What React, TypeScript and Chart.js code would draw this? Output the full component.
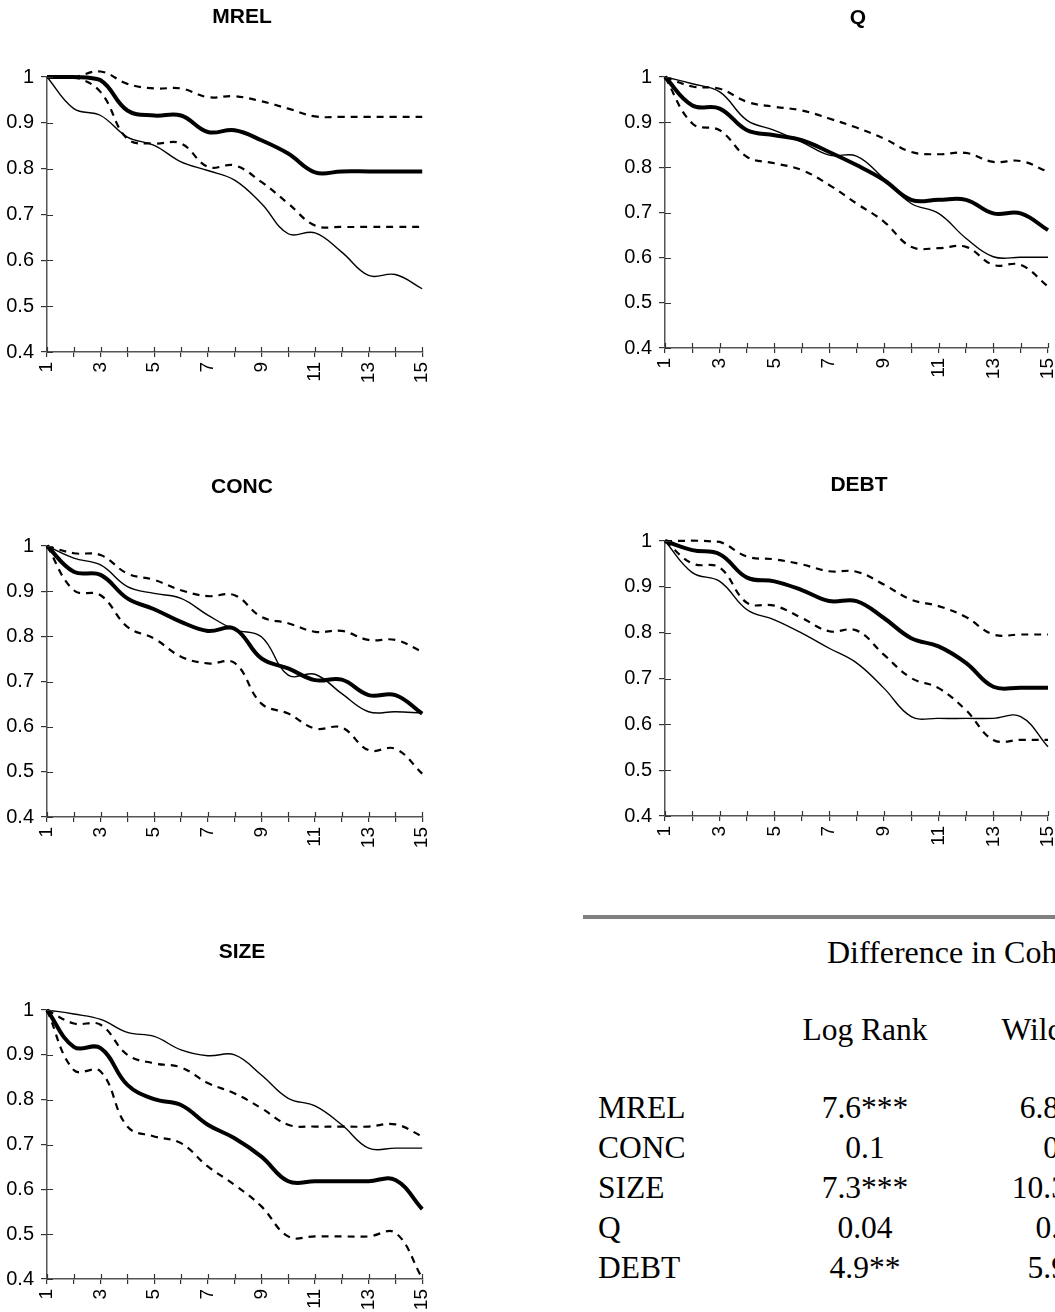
import React, { useEffect, useRef } from 'react';
import { Chart, registerables } from 'chart.js';

Chart.register(...registerables);

// ---- data ----
const periods = [1, 2, 3, 4, 5, 6, 7, 8, 9, 10, 11, 12, 13, 14, 15];
const xLabelValues = [1, 3, 5, 7, 9, 11, 13, 15];
const yTickValues = [0.4, 0.5, 0.6, 0.7, 0.8, 0.9, 1];

const mrelThick = [1, 1, 0.993, 0.927, 0.916, 0.916, 0.88, 0.884, 0.862, 0.833, 0.792, 0.794, 0.794, 0.794, 0.794];
const mrelThin = [1, 0.931, 0.916, 0.869, 0.851, 0.815, 0.796, 0.775, 0.724, 0.658, 0.66, 0.618, 0.567, 0.569, 0.538];
const mrelUpper = [1, 1.0, 1.012, 0.985, 0.975, 0.975, 0.956, 0.958, 0.947, 0.931, 0.914, 0.913, 0.913, 0.913, 0.913];
const mrelLower = [1, 1.0, 0.967, 0.865, 0.855, 0.855, 0.804, 0.807, 0.771, 0.724, 0.676, 0.673, 0.673, 0.673, 0.673];

const qThick = [1, 0.937, 0.93, 0.882, 0.871, 0.86, 0.834, 0.805, 0.772, 0.728, 0.728, 0.728, 0.698, 0.698, 0.661];
const qThin = [1, 0.985, 0.967, 0.904, 0.882, 0.856, 0.827, 0.825, 0.775, 0.72, 0.698, 0.643, 0.602, 0.601, 0.601];
const qUpper = [1, 0.979, 0.974, 0.945, 0.934, 0.926, 0.908, 0.888, 0.864, 0.834, 0.829, 0.832, 0.812, 0.814, 0.79];
const qLower = [1, 0.897, 0.882, 0.823, 0.809, 0.794, 0.761, 0.72, 0.68, 0.624, 0.621, 0.624, 0.584, 0.584, 0.536];

const concThick = [1, 0.943, 0.936, 0.884, 0.86, 0.832, 0.812, 0.817, 0.751, 0.729, 0.703, 0.704, 0.67, 0.67, 0.629];
const concThin = [1, 0.973, 0.958, 0.91, 0.895, 0.884, 0.847, 0.815, 0.799, 0.714, 0.716, 0.673, 0.633, 0.633, 0.63];
const concUpper = [1, 0.984, 0.98, 0.939, 0.925, 0.902, 0.889, 0.891, 0.843, 0.829, 0.81, 0.812, 0.792, 0.792, 0.766];
const concLower = [1, 0.902, 0.891, 0.821, 0.795, 0.755, 0.74, 0.741, 0.651, 0.629, 0.596, 0.598, 0.548, 0.551, 0.496];

const debtThick = [1, 0.98, 0.971, 0.92, 0.912, 0.893, 0.869, 0.869, 0.832, 0.788, 0.77, 0.734, 0.682, 0.68, 0.68];
const debtThin = [1, 0.931, 0.912, 0.85, 0.828, 0.799, 0.766, 0.734, 0.679, 0.617, 0.613, 0.613, 0.613, 0.617, 0.551];
const debtUpper = [1, 1.001, 0.998, 0.966, 0.96, 0.949, 0.934, 0.933, 0.905, 0.872, 0.858, 0.834, 0.796, 0.796, 0.796];
const debtLower = [1, 0.951, 0.942, 0.865, 0.859, 0.832, 0.803, 0.805, 0.752, 0.701, 0.679, 0.631, 0.566, 0.566, 0.566];

const sizeThick = [1, 0.918, 0.915, 0.833, 0.801, 0.788, 0.744, 0.714, 0.673, 0.618, 0.618, 0.618, 0.618, 0.621, 0.556];
const sizeThin = [1, 0.991, 0.979, 0.95, 0.941, 0.911, 0.898, 0.9, 0.855, 0.803, 0.786, 0.744, 0.692, 0.692, 0.692];
const sizeUpper = [1, 0.97, 0.967, 0.9, 0.881, 0.872, 0.837, 0.814, 0.781, 0.744, 0.74, 0.74, 0.74, 0.745, 0.718];
const sizeLower = [1, 0.866, 0.863, 0.74, 0.718, 0.703, 0.651, 0.61, 0.562, 0.495, 0.495, 0.495, 0.495, 0.503, 0.402];

const tableTitle = 'Difference in Cohort Survival';
const tableHeaders = ['Log Rank', 'Wilcoxon'];
const tableRows = ['MREL', 'CONC', 'SIZE', 'Q', 'DEBT'];
const logRankValues = ['7.6***', '0.1', '7.3***', '0.04', '4.9**'];
const wilcoxonValues = ['6.8***', '0.1', '10.3***', '0.02', '5.9**'];

// ---- layout ----
type Geo = { left: number; width: number; titleX: number; titleY: number; plotTop: number; plotBottom: number; plotLeft: number; plotRight: number };
const X_AXIS_H = 62;

const crossTicks = {
  id: 'crossTicks',
  afterDraw(chart: any) {
    const { ctx, chartArea, scales } = chart;
    ctx.save();
    ctx.strokeStyle = '#333';
    ctx.lineWidth = 1.2;
    ctx.beginPath();
    scales.x.ticks.forEach((t: any) => {
      const px = Math.round(scales.x.getPixelForValue(t.value)) + 0.5;
      ctx.moveTo(px, chartArea.bottom);
      ctx.lineTo(px, chartArea.bottom - 5);
    });
    scales.y.ticks.forEach((t: any) => {
      const py = Math.round(scales.y.getPixelForValue(t.value)) + 0.5;
      ctx.moveTo(chartArea.left, py);
      ctx.lineTo(chartArea.left + 6, py);
    });
    ctx.stroke();
    ctx.restore();
  },
};

const panelTitle = {
  id: 'panelTitle',
  afterDraw(chart: any, _args: any, opts: any) {
    const { ctx } = chart;
    ctx.save();
    ctx.fillStyle = '#000';
    ctx.font = 'bold 21px "Liberation Sans", Arial, sans-serif';
    ctx.textAlign = 'center';
    ctx.textBaseline = 'middle';
    ctx.fillText(opts.text, opts.x, opts.y);
    ctx.restore();
  },
};

function Panel({ title, thick, thin, upper, lower, geo }: { title: string; thick: number[]; thin: number[]; upper: number[]; lower: number[]; geo: Geo }) {
  const ref = useRef<HTMLCanvasElement | null>(null);
  const top = geo.titleY - 16;
  const height = geo.plotBottom - top + X_AXIS_H;
  useEffect(() => {
    if (!ref.current) return;
    const dashed = { borderColor: '#000', borderWidth: 2.2, borderDash: [7, 6], pointRadius: 0, tension: 0.4, fill: false, clip: false as any };
    const chart = new Chart(ref.current, {
      type: 'line',
      data: {
        datasets: [
          { data: periods.map((x, i) => ({ x, y: lower[i] })), ...dashed },
          { data: periods.map((x, i) => ({ x, y: upper[i] })), ...dashed },
          { data: periods.map((x, i) => ({ x, y: thin[i] })), borderColor: '#000', borderWidth: 1.4, pointRadius: 0, tension: 0.4, fill: false, clip: false as any },
          { data: periods.map((x, i) => ({ x, y: thick[i] })), borderColor: '#000', borderWidth: 4, pointRadius: 0, tension: 0.4, fill: false, clip: false as any },
        ],
      },
      options: {
        animation: false,
        responsive: false,
        events: [],
        layout: { padding: { left: 0, top: geo.plotTop - top, bottom: 0, right: geo.left + geo.width - geo.plotRight } },
        plugins: {
          legend: { display: false },
          tooltip: { enabled: false },
          title: { display: false },
          panelTitle: { text: title, x: geo.titleX - geo.left, y: geo.titleY - top },
        },
        scales: {
          x: {
            type: 'linear',
            min: 1,
            max: 15,
            afterFit: (s: any) => { s.height = X_AXIS_H; },
            afterBuildTicks: (s: any) => { s.ticks = periods.map((v) => ({ value: v })); },
            ticks: {
              autoSkip: false,
              minRotation: 90,
              maxRotation: 90,
              padding: 5,
              color: '#000',
              font: { family: 'Liberation Sans, Arial, sans-serif', size: 19 },
              callback: (v: any) => (xLabelValues.includes(Number(v)) ? String(v) : ''),
            },
            grid: { display: true, drawOnChartArea: false, drawTicks: true, tickLength: 5, color: '#333', lineWidth: 1.2 },
            border: { display: true, color: '#555', width: 1.5 },
          },
          y: {
            type: 'linear',
            min: 0.4,
            max: 1,
            afterFit: (s: any) => { s.width = geo.plotLeft - geo.left; },
            afterBuildTicks: (s: any) => { s.ticks = yTickValues.map((v) => ({ value: v })); },
            ticks: {
              padding: 7,
              color: '#000',
              font: { family: 'Liberation Sans, Arial, sans-serif', size: 20 },
              callback: (v: any) => { const r = Math.round(Number(v) * 10) / 10; return r === 1 ? '1' : r.toFixed(1); },
            },
            grid: { display: true, drawOnChartArea: false, drawTicks: true, tickLength: 6, color: '#333', lineWidth: 1.2 },
            border: { display: true, color: '#555', width: 1.5 },
          },
        },
      },
      plugins: [crossTicks, panelTitle],
    } as any);
    return () => chart.destroy();
  }, []);
  return (
    <canvas
      ref={ref}
      width={geo.width}
      height={height}
      style={{ position: 'absolute', left: geo.left, top, width: geo.width, height }}
    />
  );
}

const geoMrel: Geo = { left: 0, width: 450, titleX: 242, titleY: 17, plotTop: 77, plotBottom: 352, plotLeft: 47, plotRight: 431 };
const geoQ: Geo = { left: 618, width: 460, titleX: 858, titleY: 18, plotTop: 77, plotBottom: 348, plotLeft: 665, plotRight: 1048 };
const geoConc: Geo = { left: 0, width: 450, titleX: 242, titleY: 487, plotTop: 546, plotBottom: 817, plotLeft: 47, plotRight: 431 };
const geoDebt: Geo = { left: 618, width: 460, titleX: 859, titleY: 485, plotTop: 541, plotBottom: 816, plotLeft: 665, plotRight: 1048 };
const geoSize: Geo = { left: 0, width: 450, titleX: 242, titleY: 952, plotTop: 1010, plotBottom: 1279, plotLeft: 47, plotRight: 431 };

const serif: React.CSSProperties = { position: 'absolute', fontFamily: '"Liberation Serif", "Times New Roman", serif', fontSize: 31.5, lineHeight: '36px', color: '#000', whiteSpace: 'nowrap' };

export default function App() {
  const rowBaseline = (i: number) => 1118 + i * 40;
  return (
    <div style={{ position: 'fixed', left: 0, top: 0, width: 1055, height: 1312, overflow: 'hidden', background: '#fff' }}>
      <Panel title="MREL" thick={mrelThick} thin={mrelThin} upper={mrelUpper} lower={mrelLower} geo={geoMrel} />
      <Panel title="Q" thick={qThick} thin={qThin} upper={qUpper} lower={qLower} geo={geoQ} />
      <Panel title="CONC" thick={concThick} thin={concThin} upper={concUpper} lower={concLower} geo={geoConc} />
      <Panel title="DEBT" thick={debtThick} thin={debtThin} upper={debtUpper} lower={debtLower} geo={geoDebt} />
      <Panel title="SIZE" thick={sizeThick} thin={sizeThin} upper={sizeUpper} lower={sizeLower} geo={geoSize} />

      <div style={{ position: 'absolute', left: 583, top: 915, width: 520, height: 4, background: '#808080' }} />
      <div style={{ ...serif, fontSize: 32, left: 827, top: 962 - 28 }}>{tableTitle}</div>
      <div style={{ ...serif, left: 765, width: 200, textAlign: 'center', top: 1040 - 28 }}>{tableHeaders[0]}</div>
      <div style={{ ...serif, left: 963, width: 200, textAlign: 'center', top: 1040 - 28 }}>{tableHeaders[1]}</div>
      {tableRows.map((r, i) => (
        <React.Fragment key={r}>
          <div style={{ ...serif, left: 598, top: rowBaseline(i) - 28 }}>{r}</div>
          <div style={{ ...serif, left: 765, width: 200, textAlign: 'center', top: rowBaseline(i) - 28 }}>{logRankValues[i]}</div>
          <div style={{ ...serif, left: 963, width: 200, textAlign: 'center', top: rowBaseline(i) - 28 }}>{wilcoxonValues[i]}</div>
        </React.Fragment>
      ))}
    </div>
  );
}
